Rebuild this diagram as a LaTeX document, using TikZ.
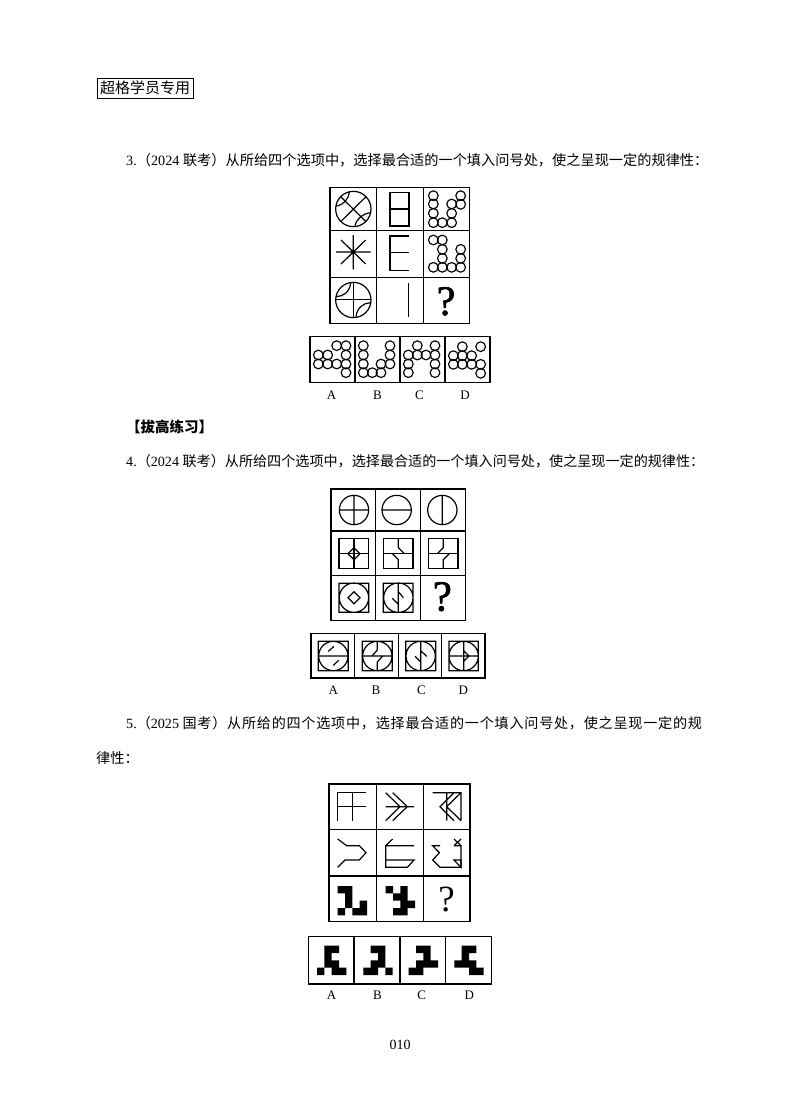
\documentclass[tikz,border=0pt]{standalone}
\usepackage{fontspec}
\setmainfont{Liberation Serif}
\newfontfamily\cjk{Noto Sans CJK SC}
\newfontfamily\cjkwide[LetterSpace=5.4]{Noto Sans CJK SC}
\newfontfamily\qfont[FakeBold=1.6]{Liberation Serif}
\tikzset{
  zoomed/.style 2 args={shift={(#1,#2)},x=0.33333pt,y=-0.33333pt},
  frame/.style={line width=1.5pt,black},
  thin line/.style={line width=1.2pt,black,line join=miter},
  ring/.style={line width=1.15pt,black},
  para/.style={anchor=west,inner sep=0pt,font=\fontsize{14.2}{14.2}\selectfont},
  optlabel/.style={inner sep=0pt,font=\fontsize{13}{13}\selectfont},
  qmark/.style={inner sep=0pt,font=\fontsize{#1}{#1}\selectfont\qfont},
  ink/.style={fill=black}
}
\newcommand{\cn}[1]{{\cjk #1}}
\begin{document}
\begin{tikzpicture}[x=1pt,y=-1pt]
\useasboundingbox (0,0) rectangle (800,1114);
\fill[white] (0,0) rectangle (800,1114);

% texts
\node[draw,line width=1pt,inner sep=0pt,minimum width=96pt,minimum height=20pt,font=\fontsize{15}{15}\selectfont] (hdr) at (145,88) {\cn{超格学员专用}};
\node[para] (q3) at (126,160) {3.\cn{（}2024 \cn{联考）从所给四个选项中，选择最合适的一个填入问号处，使之呈现一定的规律性：}};
\node[para,font=\fontsize{14.5}{14.5}\selectfont\bfseries] (sec) at (126,427) {\cn{【拔高练习】}};
\node[para,font=\fontsize{14.1}{14.1}\selectfont] (q4) at (126,461) {4.\cn{（}2024 \cn{联考）从所给四个选项中，选择最合适的一个填入问号处，使之呈现一定的规律性：}};
\node[para,font=\fontsize{14.1}{14.1}\selectfont] (q5) at (126,723) {5.\cn{（}2025 {\cjkwide 国考）从所给的四个选项中，选择最合适的一个填入问号处，使之呈现一定的规}};
\node[para] (q5b) at (96,758) {\cn{律性：}};
\node[inner sep=0pt,font=\fontsize{14}{14}\selectfont] (pg) at (400,1045) {010};

% ---------- grid 1
\begin{scope}[zoomed={320}{180}]
\draw[frame] (30,22) rectangle (448,430);
\foreach \x in {170,310} \draw[frame] (\x,22) -- (\x,430);
\foreach \y in {152,292} \draw[frame] (30,\y) -- (448,\y);
\draw[thin line] (100,87) circle[radius=53];
\draw[thin line] (62,125) -- (138,50) (62,50) -- (138,125);
\draw[thin line] (88,35) .. controls (85,60) and (70,75) .. (48,78);
\draw[thin line] (105,137) .. controls (110,115) and (130,100) .. (153,98);
\draw[thin line] (210,37) rectangle (267,138) (210,87) -- (267,87);
\foreach \a/\b in {340/47,340/72,340/100,340/128,367/128,395/128,395/100,395/72,422/47,422/73} \draw[ring] (\a,\b) circle[radius=14.5];
\draw[thin line] (48,216) -- (152,216) (100,165) -- (100,268) (63,180) -- (137,252) (137,180) -- (63,252);
\fill (100,216) circle[radius=5];
\draw[thin line] (267,168) -- (210,168) -- (210,271) -- (267,271) (210,218) -- (267,218);
\foreach \a/\b in {340/180,367/180,367/208,367/235,340/262,367/262,395/262,422/262,422/235,422/208} \draw[ring] (\a,\b) circle[radius=14.5];
\draw[thin line] (100,360) circle[radius=53];
\draw[thin line] (48,358) -- (152,358) (100,308) -- (100,412);
\draw[thin line] (92,308) .. controls (90,335) and (70,350) .. (48,350);
\draw[thin line] (108,411) .. controls (110,385) and (130,368) .. (152,368);
\draw[thin line] (265,310) -- (265,410);
\node[qmark=42] (qa) at (378,364) {?};
\end{scope}

% ---------- options 1
\begin{scope}[zoomed={300}{330}]
\draw[frame] (30,20) rectangle (570,158);
\foreach \x in {165,300,435} \draw[frame] (\x,20) -- (\x,158);
\foreach \a/\b in {110/47,138/47,55/75,83/75,138/75,55/102,83/102,110/102,138/102,138/128,
  190/47,270/47,190/75,270/75,190/102,243/102,270/102,190/128,217/128,243/128,
  352/47,405/47,325/75,352/75,378/75,405/75,325/102,405/102,325/128,405/128,
  487/50,542/50,460/77,487/77,515/77,460/103,487/103,515/103,542/103,542/130}
  \draw[ring] (\a,\b) circle[radius=14.5];
\node[optlabel] (a1) at (95,197) {A};
\node[optlabel] (b1) at (232,197) {B};
\node[optlabel] (c1) at (358,197) {C};
\node[optlabel] (d1) at (495,197) {D};
\end{scope}

% ---------- grid 2
\begin{scope}[zoomed={320}{485}]
\draw[frame] (33,12) rectangle (436,407);
\foreach \x in {167,302} \draw[frame] (\x,12) -- (\x,407);
\foreach \y in {138,272} \draw[frame] (33,\y) -- (436,\y);
\draw[thin line] (102,75) circle[radius=44] (58,75) -- (146,75) (102,31) -- (102,119);
\draw[thin line] (230,75) circle[radius=44] (186,75) -- (274,75);
\draw[thin line] (367,75) circle[radius=44] (367,31) -- (367,119);
\draw[thin line] (57,161) rectangle (146,250) (57,206) -- (146,206) (102,161) -- (102,250);
\draw[thin line] (102,188) -- (120,206) -- (102,224) -- (84,206) -- cycle;
\draw[thin line] (190,161) rectangle (279,250) (190,206) -- (279,206);
\draw[thin line] (235,161) -- (235,188) -- (253,206) (235,250) -- (235,224) -- (217,206);
\draw[thin line] (326,161) rectangle (414,250) (326,206) -- (414,206);
\draw[thin line] (370,161) -- (370,188) -- (352,206) (370,250) -- (370,224) -- (388,206);
\draw[thin line] (57,295) rectangle (146,382) (102,338) circle[radius=44];
\draw[thin line] (102,320) -- (120,338) -- (102,356) -- (84,338) -- cycle;
\draw[thin line] (190,295) rectangle (279,382) (235,338) circle[radius=44];
\draw[thin line] (235,295) -- (235,382) (235,320) -- (250,338) (235,358) -- (217,340);
\node[qmark=43] (qb) at (367,335) {?};
\end{scope}

% ---------- options 2
\begin{scope}[zoomed={300}{628}]
\draw[frame] (33,17) rectangle (555,150);
\foreach \x in {163,295,425} \draw[frame] (\x,17) -- (\x,150);
\draw[thin line] (55,40) rectangle (145,128) (100,84) circle[radius=44] (56,84) -- (144,84) (85,70) -- (102,55) (100,112) -- (116,97);
\draw[thin line] (187,40) rectangle (277,128) (232,84) circle[radius=44] (188,84) -- (276,84);
\draw[thin line] (232,40) -- (232,66) -- (216,84) (232,128) -- (232,102) -- (248,84);
\draw[thin line] (317,40) rectangle (407,128) (362,84) circle[radius=44] (362,40) -- (362,128) (362,68) -- (380,85) (345,85) -- (362,102);
\draw[thin line] (447,40) rectangle (535,128) (491,84) circle[radius=44] (447,84) -- (535,84) (491,40) -- (491,128) (491,68) -- (507,84) -- (491,100);
\node[optlabel] (a2) at (100,187) {A};
\node[optlabel] (b2) at (228,187) {B};
\node[optlabel] (c2) at (364,187) {C};
\node[optlabel] (d2) at (490,187) {D};
\end{scope}

% ---------- grid 3
\begin{scope}[zoomed={320}{780}]
\draw[frame] (27,12) rectangle (450,425);
\foreach \x in {169,310} \draw[frame] (\x,12) -- (\x,425);
\foreach \y in {148,288} \draw[frame] (27,\y) -- (450,\y);
\draw[thin line] (138,38) -- (53,38) -- (53,122) (97,38) -- (97,122) (53,80) -- (138,80);
\draw[thin line] (197,38) -- (240,80) -- (197,122) (218,38) -- (262,80) -- (218,122) (197,80) -- (282,80);
\draw[thin line] (338,38) -- (423,38) -- (423,122) (380,38) -- (380,122) (402,38) -- (360,80) -- (402,122) (423,38) -- (380,80) -- (423,122);
\draw[thin line] (53,177) -- (80,197) -- (118,197) -- (138,218) -- (118,240) -- (75,240) -- (53,262);
\draw[thin line] (218,177) -- (197,197) -- (197,262) -- (262,262) -- (282,240) -- (197,240) (197,197) -- (282,197);
\draw[thin line] (360,197) -- (338,197) -- (358,218) -- (338,240) -- (360,262) -- (423,262) -- (423,197) -- (402,197);
\draw[thin line] (402,177) -- (423,197) (423,177) -- (402,197) (402,240) -- (423,240) -- (423,262) -- cycle;
\fill[ink] (53,318) -- (97,318) -- (97,384) -- (75,384) -- (75,406) -- (53,406) -- (53,384) -- (75,384) -- (75,340) -- (53,340) -- cycle;
\fill[ink] (119,362) -- (141,362) -- (141,406) -- (97,406) -- (97,384) -- (119,384) -- cycle;
\fill[ink] (197,318) -- (219,318) -- (219,340) -- (241,340) -- (241,318) -- (263,318) -- (263,362) -- (285,362) -- (285,384) -- (263,384) -- (263,406) -- (219,406) -- (219,384) -- (241,384) -- (241,362) -- (219,362) -- (219,340) -- (197,340) -- cycle;
\node[inner sep=0pt,font=\fontsize{37}{37}\selectfont] (qc) at (380,360) {?};
\end{scope}

% ---------- options 3
\begin{scope}[zoomed={300}{930}]
\draw[frame] (25,20) rectangle (575,162);
\foreach \x in {162,300,437} \draw[frame] (\x,20) -- (\x,162);
\fill[ink] (73,47) -- (117,47) -- (117,69) -- (95,69) -- (95,91) -- (117,91) -- (117,113) -- (139,113) -- (139,135) -- (95,135) -- (95,113) -- (73,113) -- (73,135) -- (51,135) -- (51,113) -- (73,113) -- cycle;
\fill[ink] (212,47) -- (256,47) -- (256,113) -- (278,113) -- (278,135) -- (256,135) -- (256,113) -- (234,113) -- (234,135) -- (190,135) -- (190,113) -- (212,113) -- (212,91) -- (234,91) -- (234,69) -- (212,69) -- cycle;
\fill[ink] (348,47) -- (392,47) -- (392,91) -- (414,91) -- (414,113) -- (370,113) -- (370,135) -- (326,135) -- (326,113) -- (348,113) -- (348,91) -- (370,91) -- (370,69) -- (348,69) -- cycle;
\fill[ink] (485,47) -- (529,47) -- (529,69) -- (507,69) -- (507,91) -- (529,91) -- (529,113) -- (551,113) -- (551,135) -- (507,135) -- (507,113) -- (463,113) -- (463,91) -- (485,91) -- cycle;
\node[optlabel] (a3) at (95,197) {A};
\node[optlabel] (b3) at (232,197) {B};
\node[optlabel] (c3) at (365,197) {C};
\node[optlabel] (d3) at (508,197) {D};
\end{scope}
\end{tikzpicture}
\end{document}
